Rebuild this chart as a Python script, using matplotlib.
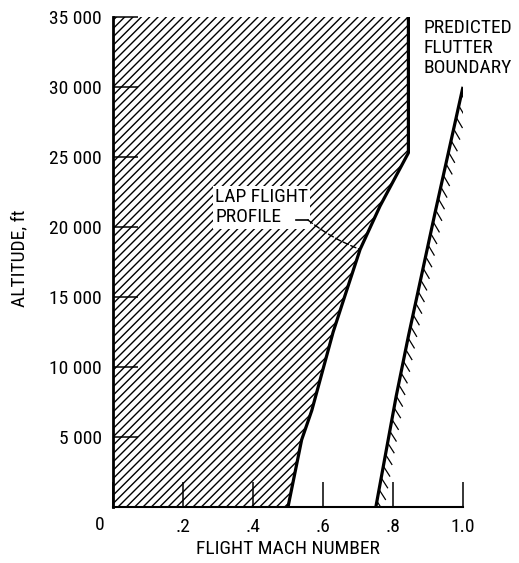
import matplotlib
matplotlib.use("Agg")
import matplotlib.pyplot as plt
import matplotlib.patheffects as pe
from matplotlib import font_manager

# ---- data ----
mach_lap = [0.500, 0.539, 0.568, 0.629, 0.668, 0.706, 0.763, 0.844, 0.844]
alt_lap = [0, 4800, 6900, 12500, 15500, 18400, 21500, 25300, 35000]

mach_flutter = [0.751, 0.809, 0.844, 0.920, 0.999]
alt_flutter = [0, 7900, 12200, 21000, 29900]

x_ticks = [0, 0.2, 0.4, 0.6, 0.8, 1.0]
x_ticklabels = ["", ".2", ".4", ".6", ".8", "1.0"]
x_origin_label = "0"
y_ticks = [5000, 10000, 15000, 20000, 25000, 30000, 35000]
y_ticklabels = ["5 000", "10 000", "15 000", "20 000", "25 000", "30 000", "35 000"]

# ---- pick a condensed font if one is installed ----
fonts = font_manager.fontManager.ttflist
names = {f.name for f in fonts}
cond_family = None
for cand in ['Liberation Sans Narrow', 'Roboto Condensed', 'DejaVu Sans Condensed',
             'Open Sans Condensed', 'Noto Sans Condensed']:
    if cand in names:
        cond_family = cand
        break
stretch = 'normal'
if cond_family is None:
    for f in fonts:
        st = f.stretch
        if (isinstance(st, str) and 'condensed' in st) or (isinstance(st, int) and st < 500):
            cond_family = f.name
            stretch = 'condensed'
            break
if cond_family is None:
    cond_family = 'DejaVu Sans'
    FS = 12
else:
    FS = 14

plt.rcParams['font.family'] = [cond_family, 'DejaVu Sans']
plt.rcParams['font.stretch'] = stretch
plt.rcParams['hatch.linewidth'] = 1.0

W, H = 519, 563
fig = plt.figure(figsize=(W / 100, H / 100), dpi=100)
ax = fig.add_axes([113 / W, (H - 507) / H, 350 / W, 490 / H])

ax.set_xlim(0, 1.0)
ax.set_ylim(0, 35000)

# hatched LAP region
ax.fill_betweenx(alt_lap, 0, mach_lap, facecolor='none', edgecolor='black',
                 hatch='////', linewidth=0)
ax.plot(mach_lap, alt_lap, color='black', lw=2.3, solid_capstyle='butt')

# flutter boundary with ticks on the right side
ax.plot(mach_flutter, alt_flutter, color='black', lw=2.3)
ax.plot(mach_flutter, alt_flutter, color='black', lw=0.9,
        path_effects=[pe.withTickedStroke(angle=-137, spacing=8.5, length=1.0)])

# spines / ticks
for s in ['top', 'right']:
    ax.spines[s].set_visible(False)
ax.spines['left'].set_linewidth(2.0)
ax.spines['bottom'].set_linewidth(1.5)

ax.set_xticks(x_ticks)
ax.set_xticklabels(x_ticklabels)
ax.set_yticks(y_ticks)
ax.set_yticklabels(y_ticklabels)
ax.tick_params(direction='in', length=18, width=1.1, labelsize=FS, pad=8)
ax.text(-0.037, -0.0367, x_origin_label, transform=ax.transAxes,
        fontsize=FS, ha='center', va='center')

ax.set_xlabel("FLIGHT MACH NUMBER", fontsize=FS)
ax.xaxis.set_label_coords(0.5, -0.068)
ax.set_ylabel("ALTITUDE, ft", fontsize=FS)
ax.yaxis.set_label_coords(-0.243, 0.508)

# annotations
ax.text(0.292, 21400, "LAP FLIGHT\nPROFILE", fontsize=FS, ha='left', va='center',
        linespacing=1.15, zorder=3,
        bbox=dict(facecolor='white', edgecolor='none', pad=1.5))
ax.plot([0.524, 0.557], [20500, 20500], color='black', lw=1.2, zorder=4)
ax.annotate("", xy=(0.706, 18400), xytext=(0.557, 20500),
            arrowprops=dict(arrowstyle='-', color='black', lw=1.0,
                            linestyle=(0, (4, 2)), shrinkA=0, shrinkB=0,
                            connectionstyle='arc3,rad=0.08'), zorder=4)

ax.text(0.886, 34860, "PREDICTED\nFLUTTER\nBOUNDARY", fontsize=FS,
        ha='left', va='top', linespacing=1.15, clip_on=False)

fig.savefig("out.png", dpi=100)
